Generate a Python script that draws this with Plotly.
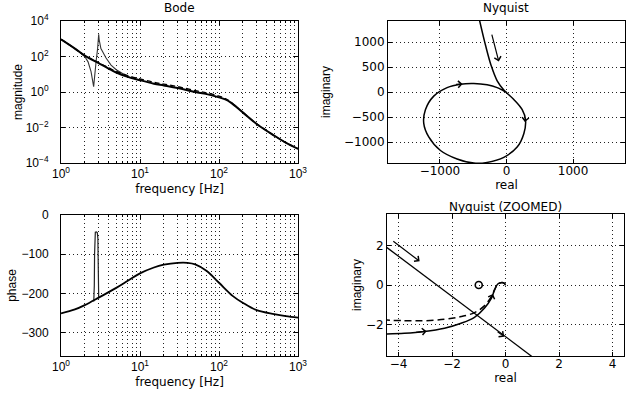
import plotly.graph_objects as go

W, H = 634, 398

# ---------------- data ----------------
# Bode magnitude
freq_mag = [1, 1.5, 2, 3, 4, 5, 7, 10, 15, 20, 30, 50, 70, 100, 120, 140, 200, 300, 500, 700, 1000]
mag_solid = [930, 280, 112, 42, 21, 12.6, 7.1, 4.6, 2.95, 2.34, 1.66, 1.0, 0.76, 0.5, 0.38, 0.26,
             0.071, 0.0158, 0.0035, 0.0014, 0.00063]
mag_dashed = [930, 280, 112, 44, 23.5, 14.5, 8.4, 5.4, 3.5, 2.8, 2.0, 1.2, 0.9, 0.59, 0.43, 0.28,
              0.072, 0.016, 0.0035, 0.0014, 0.00063]
freq_res = [1, 1.5, 2, 2.2, 2.4, 2.5, 2.56, 2.59, 2.62, 2.7, 2.8, 2.9, 2.96, 3.0, 3.04, 3.1,
            3.2, 3.37, 3.7, 4.3, 5, 5.8, 7, 10]
mag_res = [930, 280, 100, 50, 14, 6, 2.8, 2.0, 3.5, 18, 70, 250, 800, 1800, 900, 450,
           280, 186, 85, 33, 18, 12, 7.3, 4.6]

# Bode phase
freq_ph = [1, 1.5, 2, 3, 5, 7, 10, 15, 20, 30, 40, 50, 70, 100, 150, 200, 300, 500, 700, 1000]
phase_solid = [-251, -241, -230, -211, -186, -168, -149, -134, -127, -122, -122, -126, -143,
               -173, -207, -224, -243, -253, -258, -262]
freq_spike = [2.6, 2.64, 2.66, 2.68, 2.72, 2.8, 2.88, 2.93, 2.96, 2.98, 3.0]
phase_spike = [-221, -180, -100, -55, -44, -43, -45, -60, -120, -190, -211]

# Nyquist (full)
nyq_re = [-420, -316, -231, -140, -40, 110, 236, 286, 261, 160, -40, -291, -491, -742, -992,
          -1168, -1243, -1218, -1093, -892, -692, -491, -291, -140, -40, 0]
nyq_im = [1520, 939, 531, 224, 41, -150, -354, -558, -830, -1102, -1306, -1408, -1422, -1340,
          -1170, -898, -626, -354, -82, 88, 156, 170, 143, 88, 20, 0]

# Nyquist (zoomed)
zline_re = [-4.6, 1.03]
zline_im = [2.07, -3.67]
zsol_re = [-4.6, -3.78, -3.03, -2.28, -1.66, -1.16, -0.79, -0.53, -0.41, -0.29, -0.16, -0.04, 0.0]
zsol_im = [-2.49, -2.45, -2.36, -2.19, -1.94, -1.64, -1.18, -0.68, -0.25, 0.05, 0.12, 0.08, -0.02]
zdash_re = [-4.6, -3.78, -3.03, -2.28, -1.66, -1.16, -0.79, -0.53, -0.41, -0.29, -0.16, -0.04, 0.0]
zdash_im = [-1.77, -1.81, -1.81, -1.74, -1.6, -1.4, -1.06, -0.59, -0.25, 0.05, 0.12, 0.08, -0.02]
crit_re = [-1]
crit_im = [0]

# tick labels
dec_vals = [1, 10, 100, 1000]
dec_text = ["10<sup>0</sup>", "10<sup>1</sup>", "10<sup>2</sup>", "10<sup>3</sup>"]
mag_vals = [1e-4, 1e-2, 1, 1e2, 1e4]
mag_text = ["10<sup>\u22124</sup>", "10<sup>\u22122</sup>", "10<sup>0</sup>", "10<sup>2</sup>", "10<sup>4</sup>"]

# ---------------- figure ----------------
FONT = "DejaVu Sans, Liberation Sans, Arial, sans-serif"
NFONT = "Liberation Sans, Arial, sans-serif"
BLACK = "#000"
fig = go.Figure()

fig.add_trace(go.Scatter(x=freq_res, y=mag_res, mode="lines", line=dict(color="#333", width=1.1),
                         xaxis="x", yaxis="y", showlegend=False))
fig.add_trace(go.Scatter(x=freq_mag, y=mag_dashed, mode="lines", line=dict(color=BLACK, width=1.3, dash="5px,3px"),
                         line_shape="spline", xaxis="x", yaxis="y", showlegend=False))
fig.add_trace(go.Scatter(x=freq_mag, y=mag_solid, mode="lines", line=dict(color=BLACK, width=2),
                         line_shape="spline", xaxis="x", yaxis="y", showlegend=False))

fig.add_trace(go.Scatter(x=freq_spike, y=phase_spike, mode="lines", line=dict(color="#222", width=1.2),
                         xaxis="x3", yaxis="y3", showlegend=False))
fig.add_trace(go.Scatter(x=freq_ph, y=phase_solid, mode="lines", line=dict(color=BLACK, width=1.8),
                         line_shape="spline", xaxis="x3", yaxis="y3", showlegend=False))

fig.add_trace(go.Scatter(x=nyq_re, y=nyq_im, mode="lines", line=dict(color=BLACK, width=1.5),
                         line_shape="spline", xaxis="x2", yaxis="y2", showlegend=False))

fig.add_trace(go.Scatter(x=zline_re, y=zline_im, mode="lines", line=dict(color=BLACK, width=1.3),
                         xaxis="x4", yaxis="y4", showlegend=False))
fig.add_trace(go.Scatter(x=zdash_re, y=zdash_im, mode="lines", line=dict(color=BLACK, width=1.5, dash="7px,4px"),
                         line_shape="spline", xaxis="x4", yaxis="y4", showlegend=False))
fig.add_trace(go.Scatter(x=zsol_re, y=zsol_im, mode="lines", line=dict(color=BLACK, width=1.5),
                         line_shape="spline", xaxis="x4", yaxis="y4", showlegend=False))
fig.add_trace(go.Scatter(x=crit_re, y=crit_im, mode="markers",
                         marker=dict(symbol="circle-open", size=7, color=BLACK, line=dict(width=1.6)),
                         xaxis="x4", yaxis="y4", showlegend=False))

def px_x(a, b):
    return [a / W, b / W]

def px_y(top, bottom):
    return [1 - bottom / H, 1 - top / H]

grid = dict(showgrid=True, gridcolor="#222", griddash="1px,3px", gridwidth=1)
base = dict(showline=True, linecolor=BLACK, linewidth=1, mirror="ticks", ticks="inside",
            ticklen=4, tickcolor=BLACK, zeroline=False, automargin=False, **grid)
minor = dict(dtick="D1", showgrid=True, gridcolor="#222", griddash="1px,3px", gridwidth=1,
             ticks="inside", ticklen=2, tickcolor=BLACK)
left_tick = dict(family=NFONT, size=12, color=BLACK)
right_tick = dict(family=FONT, size=12, color=BLACK)
xt = dict(family=FONT, size=12, color=BLACK)
yt = dict(family=NFONT, size=12, color=BLACK)

fig.update_layout(
    template="none",
    width=W, height=H, margin=dict(l=0, r=0, t=0, b=0, pad=0, autoexpand=False),
    paper_bgcolor="white", plot_bgcolor="white",
    font=dict(family=FONT, size=12, color=BLACK),
    xaxis=dict(base, type="log", range=[0, 3], domain=px_x(61, 298), anchor="y",
               tickmode="array", tickvals=dec_vals, ticktext=dec_text, minor=minor,
               tickfont=left_tick, title=dict(text="frequency [Hz]", standoff=4, font=xt)),
    yaxis=dict(base, type="log", range=[-4, 4], domain=px_y(21, 163), anchor="x",
               tickmode="array", tickvals=mag_vals, ticktext=mag_text, ticklabelstandoff=9,
               tickfont=left_tick, title=dict(text="magnitude", standoff=0, font=yt)),
    xaxis3=dict(base, type="log", range=[0, 3], domain=px_x(61, 298), anchor="y3",
                tickmode="array", tickvals=dec_vals, ticktext=dec_text, minor=minor,
                tickfont=left_tick, title=dict(text="frequency [Hz]", standoff=4, font=xt)),
    yaxis3=dict(base, range=[-360, 0], domain=px_y(215, 356), anchor="x3",
                tickmode="array", tickvals=[0, -100, -200, -300], ticklabelstandoff=9,
                tickfont=left_tick, title=dict(text="phase", standoff=2, font=yt)),
    xaxis2=dict(base, range=[-1780, 1780], domain=px_x(388, 625), anchor="y2",
                tickmode="array", tickvals=[-1000, 0, 1000], ticklabelstandoff=-3,
                tickfont=right_tick, title=dict(text="real", standoff=0, font=xt)),
    yaxis2=dict(base, range=[-1420, 1420], domain=px_y(21, 163), anchor="x2",
                tickmode="array", tickvals=[-1000, -500, 0, 500, 1000], ticklabelstandoff=0,
                tickfont=right_tick, title=dict(text="imaginary", standoff=10, font=yt)),
    xaxis4=dict(base, range=[-4.43, 4.43], domain=px_x(387, 624), anchor="y4",
                tickmode="array", tickvals=[-4, -2, 0, 2, 4], ticklabelstandoff=-3,
                tickfont=right_tick, title=dict(text="real", standoff=0, font=xt)),
    yaxis4=dict(base, range=[-3.6, 3.6], domain=px_y(214, 356), anchor="x4",
                tickmode="array", tickvals=[-2, 0, 2], ticklabelstandoff=0,
                tickfont=right_tick, title=dict(text="imaginary", standoff=1, font=yt)),
)

titles = [("Bode", 179.5, 8), ("Nyquist", 506, 8), ("Nyquist (ZOOMED)", 505.5, 207)]
for txt, cx, cy in titles:
    fig.add_annotation(text=txt, x=cx / W, y=1 - cy / H, xref="paper", yref="paper",
                       xanchor="center", yanchor="middle", showarrow=False,
                       font=dict(family=FONT, size=12, color=BLACK))

# arrows: (head_x, head_y, tail_x, tail_y, axis)
arrows = [
    (-116, 612, -226, 1178, "2"),
    (-660, 158, -780, 150, "2"),
    (276, -600, 286, -500, "2"),
    (-3.21, 1.2, -4.25, 2.28, "4"),
    (-0.05, -2.62, -0.35, -2.31, "4"),
    (-2.95, -2.34, -3.4, -2.41, "4"),
    (-0.47, -0.45, -0.55, -0.75, "4"),
]
for hx, hy, tx, ty, ax_id in arrows:
    fig.add_annotation(x=hx, y=hy, ax=tx, ay=ty, xref="x" + ax_id, yref="y" + ax_id,
                       axref="x" + ax_id, ayref="y" + ax_id, showarrow=True,
                       arrowhead=4, arrowsize=1.1, arrowwidth=1.2, arrowcolor=BLACK,
                       standoff=0, startstandoff=0, text="")

fig.write_html("out.html", config={"displayModeBar": False, "staticPlot": True},
               post_script="document.body.style.margin='0';document.body.style.overflow='hidden';")
